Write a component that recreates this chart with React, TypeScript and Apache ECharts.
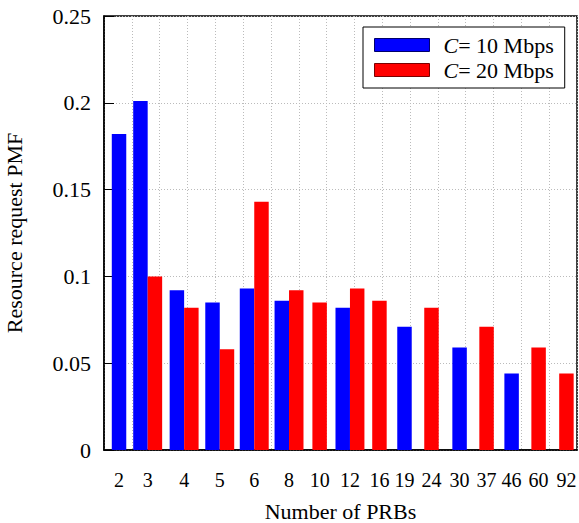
import React, { useEffect, useRef } from "react";
import * as echarts from "echarts";

// Category tick labels (number of PRBs)
const categories = ["2", "3", "4", "5", "6", "8", "10", "12", "16", "19", "24", "30", "37", "46", "60", "92"];
// x-value of each category on the (numeric) x axis
const xValues = [0.54, 1.57, 2.88, 4.16, 5.4, 6.65, 7.75, 8.84, 9.9, 10.8, 11.77, 12.78, 13.75, 14.65, 15.62, 16.62];
// PMF for C = 10 Mbps
const pmf10 = [0.182, 0.201, 0.092, 0.085, 0.093, 0.086, 0, 0.082, 0, 0.071, 0, 0.059, 0, 0.044, 0, 0];
// PMF for C = 20 Mbps
const pmf20 = [0, 0.1, 0.082, 0.058, 0.143, 0.092, 0.085, 0.093, 0.086, 0, 0.082, 0, 0.071, 0, 0.059, 0.044];
const seriesNames = ["C= 10 Mbps", "C= 20 Mbps"];

const FONT = "Liberation Serif";
const BAR_W = 0.52; // bar width in x-axis units

export default function App() {
  const ref = useRef<HTMLDivElement>(null);

  useEffect(() => {
    if (!ref.current) return;
    const chart = echarts.init(ref.current, null, { renderer: "svg" });

    const build = (own: number[], other: number[], side: number) =>
      own
        .map((v, i) => ({ v, i }))
        .filter((d) => d.v > 0)
        .map((d) => [xValues[d.i], d.v, other[d.i] > 0 ? side : 0]);

    const renderItem = (params: any, api: any) => {
      const x = api.value(0);
      const y = api.value(1);
      const off = api.value(2);
      const base = api.coord([x, 0]);
      const top = api.coord([x, y]);
      const w = api.size([BAR_W, 0])[0];
      const cx = base[0] + off * w;
      return {
        type: "rect",
        shape: { x: cx - w / 2, y: top[1], width: w, height: base[1] - top[1] },
        style: { fill: api.visual("color") },
      };
    };

    const option: any = {
      animation: false,
      backgroundColor: "#fff",
      grid: {
        left: 104,
        right: 2,
        top: 16,
        bottom: 73,
        show: true,
        containLabel: false,
        outerBoundsMode: "none",
        borderColor: "#000",
        borderWidth: 1.5,
        backgroundColor: "transparent",
      },
      legend: {
        orient: "vertical",
        left: 363,
        top: 27,
        padding: [7, 11, 7, 11],
        itemGap: 3,
        itemWidth: 55,
        itemHeight: 13,
        icon: "rect",
        backgroundColor: "#fff",
        borderColor: "#000",
        borderWidth: 1,
        borderRadius: 0,
        data: [
          { name: seriesNames[0], itemStyle: { borderColor: "#00006a", borderWidth: 1 } },
          { name: seriesNames[1], itemStyle: { borderColor: "#7a0000", borderWidth: 1 } },
        ],
        formatter: (name: string) => "{i|C}" + name.slice(1),
        textStyle: {
          fontFamily: FONT,
          fontSize: 22,
          color: "#000",
          padding: [0, 0, 0, 9],
          rich: {
            i: { fontFamily: FONT, fontSize: 22, fontStyle: "italic", color: "#000" },
          },
        },
      },
      xAxis: {
        type: "value",
        min: 0,
        max: 17,
        interval: 1,
        name: "Number of PRBs",
        nameLocation: "middle",
        nameGap: 50,
        nameTextStyle: { fontFamily: FONT, fontSize: 22, color: "#000" },
        axisLine: { show: true, lineStyle: { color: "#000", width: 1.5 } },
        axisTick: { show: false },
        axisLabel: {
          customValues: xValues,
          formatter: (v: number) => {
            const i = xValues.findIndex((p) => Math.abs(p - v) < 1e-6);
            return i >= 0 ? categories[i] : "";
          },
          fontFamily: FONT,
          fontSize: 20,
          color: "#000",
          margin: 20,
        },
        splitLine: { show: true, lineStyle: { color: "#bbb", type: [1, 2], width: 1 } },
      },
      yAxis: {
        type: "value",
        min: 0,
        max: 0.25,
        interval: 0.05,
        name: "Resource request PMF",
        nameLocation: "middle",
        nameGap: 79,
        nameTextStyle: { fontFamily: FONT, fontSize: 22, color: "#000" },
        axisLine: { show: true, lineStyle: { color: "#000", width: 1.5 } },
        axisTick: { show: true, inside: true, length: 10, lineStyle: { color: "#000" } },
        axisLabel: { fontFamily: FONT, fontSize: 22, color: "#000", margin: 13 },
        splitLine: { show: true, lineStyle: { color: "#bbb", type: [1, 2], width: 1 } },
      },
      series: [
        {
          name: seriesNames[0],
          type: "custom",
          color: "#0000ff",
          itemStyle: { color: "#0000ff" },
          encode: { x: 0, y: 1 },
          renderItem,
          data: build(pmf10, pmf20, -0.5),
        },
        {
          name: seriesNames[1],
          type: "custom",
          color: "#ff0000",
          itemStyle: { color: "#ff0000" },
          encode: { x: 0, y: 1 },
          renderItem,
          data: build(pmf20, pmf10, 0.5),
        },
      ],
    };

    chart.setOption(option);
    return () => chart.dispose();
  }, []);

  return (
    <div
      ref={ref}
      style={{ position: "fixed", left: 0, top: 0, width: 579, height: 523 }}
    />
  );
}
